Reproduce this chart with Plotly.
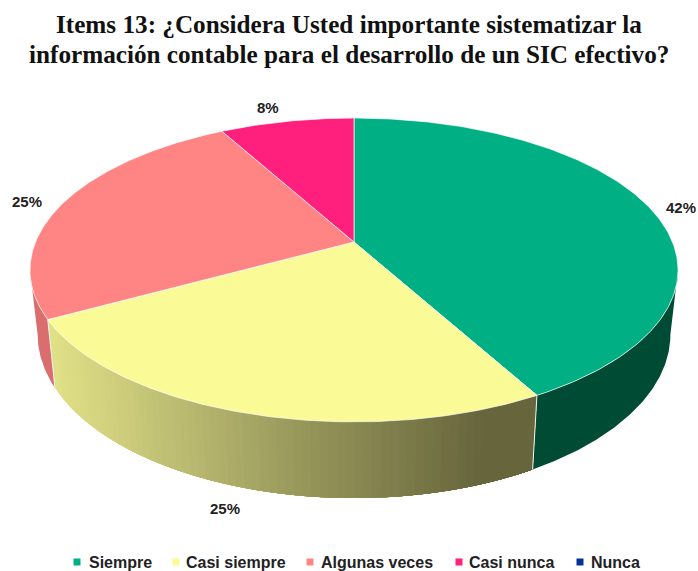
import numpy as np
import plotly.graph_objects as go

categories = ["Siempre", "Casi siempre", "Algunas veces", "Casi nunca", "Nunca"]
percent_values = [42, 25, 25, 8, 0]
top_colors = ["#00B084", "#FAFA96", "#FF8585", "#FF1F7D", "#003399"]
title_lines = ["Items 13: ¿Considera Usted importante sistematizar la",
               "información contable para el desarrollo de un SIC efectivo?"]

# Perspective projection of the disc (pixel frame)
CX, K = 354.0, 0.184
TOP_Y0, TOP_A, TOP_B = 242.0, 146.8, 318.5
BOT_Y0, BOT_A, BOT_B = 304.4, 158.0, 311.0


def project(theta, y0, a, b):
    """theta: clockwise from 12 o'clock, radians."""
    x, y = np.sin(theta), np.cos(theta)
    w = 1 + K * y
    return CX + b * x / w, y0 - a * y / w


def wall(t0, t1, colour):
    """Filled wall between two angles."""
    tt = np.linspace(t0, t1, 120)
    xt, yt = project(tt, TOP_Y0, TOP_A, TOP_B)
    xb, yb = project(tt, BOT_Y0, BOT_A, BOT_B)
    fig.add_trace(go.Scatter(
        x=np.concatenate([xt, xb[::-1], xt[:1]]), y=np.concatenate([yt, yb[::-1], yt[:1]]),
        mode="lines", fill="toself", fillcolor=colour, line=dict(width=0), hoverinfo="skip", showlegend=False))


def yellow_side(px):
    stops_x = [50, 180, 300, 480, 700]
    r = np.interp(px, stops_x, [224, 186, 150, 103, 102])
    g = np.interp(px, stops_x, [224, 186, 150, 101, 100])
    b = np.interp(px, stops_x, [135, 113, 90, 60, 60])
    return f"rgb({r:.0f},{g:.0f},{b:.0f})"


def seam(t):
    xt, yt = project(np.array([t]), TOP_Y0, TOP_A, TOP_B)
    xb, yb = project(np.array([t]), BOT_Y0, BOT_A, BOT_B)
    fig.add_trace(go.Scatter(x=[xt[0], xb[0]], y=[yt[0], yb[0]], mode="lines",
                             line=dict(color="#F4F4EC", width=1), hoverinfo="skip", showlegend=False))


fig = go.Figure()
edges = np.concatenate([[0], np.cumsum(percent_values)]) / sum(percent_values) * 2 * np.pi
tangent = np.arccos(-K)  # where the silhouette of the disc leaves the rim

# Side walls: solid for the dark green and salmon slices, banded for the yellow one
wall(tangent, edges[1], "#004B34")
wall(edges[2], 2 * np.pi - tangent, "#DA6E6E")
# Each band runs to the end of the slice, painted from the far end so no gaps show
bands = np.linspace(edges[2], edges[1], 70)
for start in bands[:-1]:
    px = project(np.array([start]), TOP_Y0, TOP_A, TOP_B)[0][0]
    wall(edges[1], start, yellow_side(px))
seam(edges[1])
seam(edges[2])

# Top faces
for i, v in enumerate(percent_values):
    if v == 0:
        continue
    tt = np.linspace(edges[i], edges[i + 1], 200)
    xt, yt = project(tt, TOP_Y0, TOP_A, TOP_B)
    fig.add_trace(go.Scatter(
        x=np.concatenate([[CX], xt, [CX]]), y=np.concatenate([[TOP_Y0], yt, [TOP_Y0]]),
        mode="lines", fill="toself", fillcolor=top_colors[i],
        line=dict(color="rgba(255,255,255,0.85)", width=0.8),
        name=categories[i], hovertemplate=f"{categories[i]}: {v}%<extra></extra>", showlegend=False))

# Data labels
label_pos = [(681, 207), (225, 508), (27, 201), (268, 107)]
for v, (lx, ly) in zip(percent_values, label_pos):
    fig.add_annotation(x=lx, y=ly, text=f"<b>{v}%</b>", showarrow=False,
                       font=dict(family="Liberation Sans", size=15, color="#222222"))

# Legend row
legend_marker_x = [77, 176, 310, 459, 580]
legend_text_x = [87, 184, 319, 467, 589]
LEGEND_Y = 562
for i, name in enumerate(categories):
    fig.add_trace(go.Scatter(x=[legend_marker_x[i]], y=[LEGEND_Y], mode="markers", hoverinfo="skip",
                             marker=dict(symbol="square", size=7, color=top_colors[i]), showlegend=False))
    fig.add_annotation(x=legend_text_x[i], y=LEGEND_Y, text=f"<b>{name}</b>", showarrow=False, xanchor="left",
                       font=dict(family="Liberation Sans", size=16, color="#222222"))

# Title lines
for line, ty in zip(title_lines, [24, 54]):
    fig.add_annotation(x=349, y=ty, text=f"<b>{line}</b>", showarrow=False,
                       font=dict(family="Liberation Serif", size=25.2, color="#111111"))

fig.update_layout(
    width=698, height=571, margin=dict(l=0, r=0, t=0, b=0),
    paper_bgcolor="white", plot_bgcolor="white", showlegend=False,
    xaxis=dict(range=[0, 698], visible=False, fixedrange=True),
    yaxis=dict(range=[571, 0], visible=False, fixedrange=True),
)
fig.write_html("out.html", config={"displayModeBar": False},
               post_script="document.body.style.margin='0';")
